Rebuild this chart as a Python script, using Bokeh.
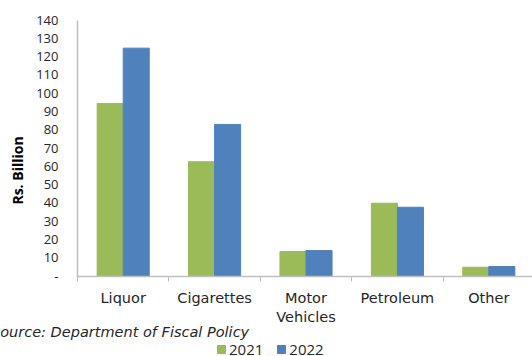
from bokeh.plotting import figure
from bokeh.models import Range1d, FixedTicker, Label, Legend, LegendItem, ColumnDataSource, LinearAxis
from bokeh.embed import file_html
from bokeh.resources import INLINE
import math

categories = ["Liquor", "Cigarettes", "Motor\nVehicles", "Petroleum", "Other"]
series_2021 = [94.3, 62.5, 13.4, 39.8, 4.8]
series_2022 = [124.6, 82.9, 13.9, 37.6, 5.2]
y_ticks = [0, 10, 20, 30, 40, 50, 60, 70, 80, 90, 100, 110, 120, 130, 140]

FONT = "Open Sans"
WIDE = "DejaVu Sans"
TXT = "#262626"
GREEN = "#9BBB59"
BLUE = "#4F81BD"
AXIS = "#bfbfbf"

W, H = 532, 356
x0_px, cat_px = 77.0, 91.4          # canvas x of category 0 edge, px per category
y0_px, ytop_px = 275.5, 19.5        # canvas y of value 0 and of value 140
ypx = (y0_px - ytop_px) / 140.0

xr = Range1d(-x0_px / cat_px, (W - x0_px) / cat_px)
yr = Range1d(-(H - y0_px) / ypx, 140 + ytop_px / ypx)

p = figure(width=W, height=H, output_backend="svg", toolbar_location=None,
           x_range=xr, y_range=yr, x_axis_location=None, y_axis_location=None,
           min_border=0, outline_line_color=None)
p.grid.grid_line_color = None

idx = list(range(len(categories)))
bw = 0.285
src = ColumnDataSource(dict(
    x1=[i + 0.5 - bw / 2 for i in idx],
    x2=[i + 0.5 + bw / 2 for i in idx],
    v1=series_2021, v2=series_2022))
r1 = p.vbar(x="x1", top="v1", width=bw, bottom=0, source=src, fill_color=GREEN, line_color=GREEN)
r2 = p.vbar(x="x2", top="v2", width=bw, bottom=0, source=src, fill_color=BLUE, line_color=BLUE)

xa = LinearAxis(fixed_location=0, bounds=(0, len(categories)))
xa.ticker = FixedTicker(ticks=[i + 0.5 for i in idx], minor_ticks=[i for i in range(len(categories) + 1)])
xa.major_label_overrides = {i + 0.5: c for i, c in zip(idx, categories)}
xa.major_tick_out = 0
xa.major_tick_in = 0
xa.minor_tick_out = 5
xa.minor_tick_in = 0
xa.minor_tick_line_color = AXIS
xa.axis_line_color = AXIS
xa.axis_line_width = 1.5
xa.major_label_text_font = WIDE
xa.major_label_text_font_size = "14.5px"
xa.major_label_text_color = TXT
xa.major_label_text_line_height = 1.2
xa.major_label_standoff = 9
p.add_layout(xa, "below")

ya = LinearAxis(fixed_location=0, bounds=(0, 140))
ya.ticker = FixedTicker(ticks=y_ticks, minor_ticks=[])
ya.major_label_overrides = {0: "-"}
ya.major_tick_out = 0
ya.major_tick_in = 0
ya.axis_line_color = AXIS
ya.axis_line_width = 1.5
ya.major_label_text_font = FONT
ya.major_label_text_font_size = "13px"
ya.major_label_text_color = TXT
ya.major_label_standoff = 19
p.add_layout(ya, "left")

# y-axis title
p.add_layout(Label(x=(17 - x0_px) / cat_px, y=(y0_px - 170) / ypx, text="Rs. Billion",
                   angle=math.pi / 2, text_font=FONT, text_font_size="14px", text_font_style="bold",
                   text_color="black", text_align="center", text_baseline="middle"))

# source note
p.add_layout(Label(x=(-9.5 - x0_px) / cat_px, y=(y0_px - 331) / ypx,
                   text="Source: Department of Fiscal Policy",
                   text_font=WIDE, text_font_size="14.5px", text_font_style="italic",
                   text_color=TXT, text_align="left", text_baseline="middle"))

legend = Legend(items=[LegendItem(label="2021", renderers=[r1]), LegendItem(label="2022", renderers=[r2])],
                orientation="horizontal", location=(216, -3),
                glyph_width=10, glyph_height=10, label_standoff=3, spacing=13,
                padding=0, margin=0, border_line_alpha=0, background_fill_alpha=0,
                label_text_font=FONT, label_text_font_size="15px", label_text_color=TXT)
p.add_layout(legend, "center")

open("out.html", "w").write(file_html(p, INLINE))
